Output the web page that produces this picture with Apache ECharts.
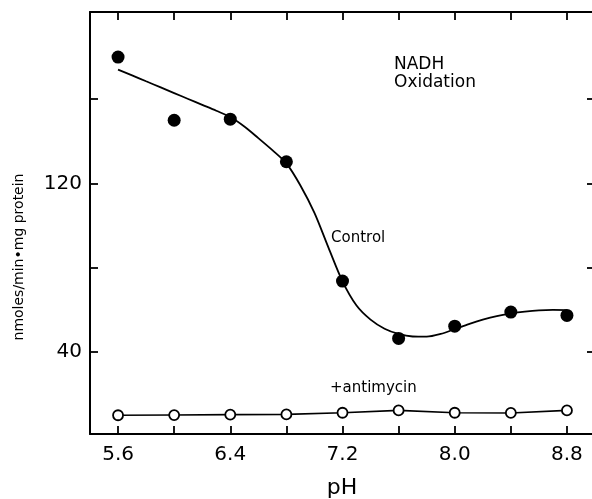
<!DOCTYPE html>
<html><head><meta charset="utf-8">
<script src="https://cdn.jsdelivr.net/npm/echarts@6/dist/echarts.min.js"></script>
<style>html,body{margin:0;padding:0;background:#fff}#c{width:592px;height:499px}</style>
</head><body><div id="c"></div>
<script>
const phPoints = [5.6, 6.0, 6.4, 6.8, 7.2, 7.6, 8.0, 8.4, 8.8];
const controlValues = [180, 150, 150.5, 130.3, 73.6, 46.4, 52.2, 58.9, 57.3];
const antimycinValues = [9.9, 10, 10.2, 10.3, 11.1, 12.2, 11.1, 11, 12.2];
const curvePh = [5.6, 5.7, 5.8, 5.9, 6.0, 6.1, 6.2, 6.3, 6.4, 6.5, 6.6, 6.7, 6.8, 6.9, 7.0, 7.1, 7.2,
  7.3, 7.4, 7.5, 7.6, 7.7, 7.8, 7.9, 8.0, 8.1, 8.2, 8.3, 8.4, 8.5, 8.6, 8.7, 8.8];
const curveValues = [174, 171.3, 168.5, 165.7, 162.9, 160.1, 157.3, 154.5, 151.5, 147, 141.5, 135.8, 129.5, 119, 106, 89.5, 73.5,
  62, 55.3, 51, 48.5, 47.3, 47.2, 48.5, 50.8, 53.2, 55.3, 57, 58.2, 59.1, 59.7, 59.9, 59.8];
const xTicks = [5.6, 6.0, 6.4, 6.8, 7.2, 7.6, 8.0, 8.4, 8.8];
const xTickLabels = [5.6, 6.4, 7.2, 8.0, 8.8];
const yTicks = [40, 80, 120, 160];
const yTickLabels = [40, 120];

const FONT = 'DejaVu Sans';
const chart = echarts.init(document.getElementById('c'));
const axisLine = {show: true, lineStyle: {color: '#000', width: 2}};
const tick = {show: true, inside: true, length: 8, lineStyle: {color: '#000', width: 1.8}};
const X_MIN = 5.4, X_MAX = 9.0, Y_MIN = 1, Y_MAX = 201.4;
chart.setOption({
  animation: false,
  grid: {left: 90, width: 505, top: 12, bottom: 65, outerBoundsMode: 'none', containLabel: false},
  xAxis: [{
    type: 'value', min: X_MIN, max: X_MAX, position: 'bottom',
    axisLine: axisLine,
    axisTick: Object.assign({}, tick, {customValues: xTicks}),
    axisLabel: {customValues: xTickLabels, color: '#000', fontFamily: FONT, fontSize: 20, margin: 11,
      formatter: v => v.toFixed(1)},
    splitLine: {show: false}
  }, {
    type: 'value', min: X_MIN, max: X_MAX, position: 'top',
    axisLine: axisLine,
    axisTick: Object.assign({}, tick, {customValues: xTicks}),
    axisLabel: {show: false}, splitLine: {show: false}
  }],
  yAxis: [{
    type: 'value', min: Y_MIN, max: Y_MAX, position: 'left',
    axisLine: axisLine,
    axisTick: Object.assign({}, tick, {customValues: yTicks}),
    axisLabel: {customValues: yTickLabels, color: '#000', fontFamily: FONT, fontSize: 20, margin: 8,
      formatter: v => String(Math.round(v))},
    splitLine: {show: false}
  }, {
    type: 'value', min: Y_MIN, max: Y_MAX, position: 'right',
    axisLine: axisLine,
    axisTick: Object.assign({}, tick, {customValues: yTicks}),
    axisLabel: {show: false}, splitLine: {show: false}
  }],
  series: [{
    type: 'line', data: curvePh.map((p, i) => [p, curveValues[i]]),
    smooth: 0.3, showSymbol: false, symbol: 'none',
    lineStyle: {color: '#000', width: 1.8}, z: 2
  }, {
    type: 'scatter', data: phPoints.map((p, i) => [p, controlValues[i]]),
    symbol: 'circle', symbolSize: 13, itemStyle: {color: '#000', opacity: 1}, z: 3
  }, {
    type: 'line', data: phPoints.map((p, i) => [p, antimycinValues[i]]),
    symbol: 'circle', symbolSize: 10, showAllSymbol: true,
    lineStyle: {color: '#000', width: 1.6},
    itemStyle: {color: '#fff', borderColor: '#000', borderWidth: 1.8}, z: 3
  }],
  graphic: [
    {type: 'text', left: 394, top: 56, style: {text: 'NADH', fontFamily: FONT, fontSize: 17, fill: '#000'}},
    {type: 'text', left: 394, top: 74, style: {text: 'Oxidation', fontFamily: FONT, fontSize: 17, fill: '#000'}},
    {type: 'text', left: 331, top: 231, style: {text: 'Control', fontFamily: FONT, fontSize: 15, fill: '#000'}},
    {type: 'text', left: 330, top: 381, style: {text: '+antimycin', fontFamily: FONT, fontSize: 15, fill: '#000'}},
    {type: 'text', x: 342, y: 488, style: {text: 'pH', fontFamily: FONT, fontSize: 22, fill: '#000', align: 'center', verticalAlign: 'middle'}},
    {type: 'text', x: 19, y: 257, rotation: Math.PI / 2,
      style: {text: 'nmoles/min•mg protein', fontFamily: FONT, fontSize: 14, fill: '#000', align: 'center', verticalAlign: 'middle'}}
  ]
});
</script></body></html>
